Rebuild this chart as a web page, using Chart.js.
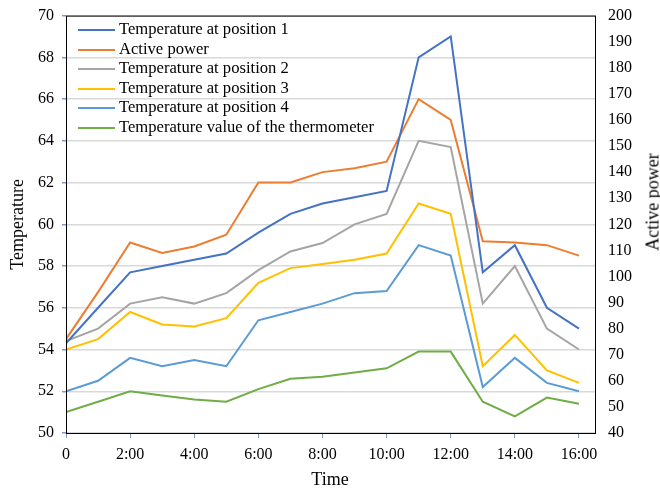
<!DOCTYPE html>
<html>
<head>
<meta charset="utf-8">
<script src="https://cdn.jsdelivr.net/npm/chart.js@4.4.1/dist/chart.umd.min.js"></script>
<style>
  body { margin: 0; background: #fff; }
  #wrap { position: relative; width: 660px; height: 489px; overflow: hidden; font-family: "Liberation Serif", "Times New Roman", serif; }
  #chart { position: absolute; left: 0; top: -7px; }
  #legend { position: absolute; left: 78px; top: 19px; }
  #legend div { height: 19.5px; line-height: 19.5px; font-size: 16.6px; color: #000; white-space: nowrap; }
  #legend span { display: inline-block; width: 37px; height: 2px; vertical-align: middle; margin-right: 4px; }
  #rtitle { position: absolute; left: 653px; top: 202px; transform: translate(-50%, -50%) rotate(-90deg); font-size: 18px; white-space: nowrap; }
  #xtitle { position: absolute; left: 330px; top: 479px; transform: translate(-50%, -50%); font-size: 18px; white-space: nowrap; }
</style>
</head>
<body>
<div id="wrap">
  <canvas id="chart" width="660" height="496"></canvas>
  <div id="legend"></div>
  <div id="rtitle">Active power</div>
  <div id="xtitle">Time</div>
</div>
<script>
// hours 0..16
const hours = [0, 1, 2, 3, 4, 5, 6, 7, 8, 9, 10, 11, 12, 13, 14, 15, 16];
const xTicks = [0, 2, 4, 6, 8, 10, 12, 14, 16];

const tempPos1 = [54.3, 56.0, 57.7, 58.0, 58.3, 58.6, 59.6, 60.5, 61.0, 61.3, 61.6, 68.0, 69.0, 57.7, 59.0, 56.0, 55.0];
const activePower = [76, 94, 113, 109, 111.5, 116, 136, 136, 140, 141.5, 144, 168, 160, 113.5, 113, 112, 108];
const tempPos2 = [54.4, 55.0, 56.2, 56.5, 56.2, 56.7, 57.8, 58.7, 59.1, 60.0, 60.5, 64.0, 63.7, 56.2, 58.0, 55.0, 54.0];
const tempPos3 = [54.0, 54.5, 55.8, 55.2, 55.1, 55.5, 57.2, 57.9, 58.1, 58.3, 58.6, 61.0, 60.5, 53.2, 54.7, 53.0, 52.4];
const tempPos4 = [52.0, 52.5, 53.6, 53.2, 53.5, 53.2, 55.4, 55.8, 56.2, 56.7, 56.8, 59.0, 58.5, 52.2, 53.6, 52.4, 52.0];
const thermometer = [51.0, 51.5, 52.0, 51.8, 51.6, 51.5, 52.1, 52.6, 52.7, 52.9, 53.1, 53.9, 53.9, 51.5, 50.8, 51.7, 51.4];

const series = [
    { label: 'Temperature at position 1', data: tempPos1, color: '#4472C4', axis: 'y' },
    { label: 'Active power', data: activePower, color: '#ED7D31', axis: 'y1' },
    { label: 'Temperature at position 2', data: tempPos2, color: '#A5A5A5', axis: 'y' },
    { label: 'Temperature at position 3', data: tempPos3, color: '#FFC000', axis: 'y' },
    { label: 'Temperature at position 4', data: tempPos4, color: '#5B9BD5', axis: 'y' },
    { label: 'Temperature value of the thermometer', data: thermometer, color: '#70AD47', axis: 'y' }
];

const FONT = "'Liberation Serif', 'Times New Roman', serif";

// black frame round the plot area
const framePlugin = {
    id: 'frame',
    afterDraw(chart) {
        const a = chart.chartArea;
        const ctx = chart.ctx;
        ctx.save();
        ctx.strokeStyle = '#000';
        ctx.lineWidth = 1;
        ctx.strokeRect(a.left + 0.5, a.top + 0.5, a.right - a.left, a.bottom - a.top);
        ctx.restore();
    }
};

new Chart(document.getElementById('chart'), {
    type: 'line',
    data: {
        datasets: series.map(s => ({
            label: s.label,
            data: hours.map((h, i) => ({ x: h, y: s.data[i] })),
            borderColor: s.color,
            backgroundColor: s.color,
            borderWidth: 2,
            pointRadius: 0,
            tension: 0,
            yAxisID: s.axis
        }))
    },
    options: {
        responsive: false,
        animation: false,
        layout: { padding: { top: 7, left: 0, right: 0, bottom: 0 } },
        plugins: {
            legend: { display: false },
            tooltip: { enabled: false }
        },
        scales: {
            x: {
                type: 'linear',
                min: 0,
                max: 16.5,
                afterBuildTicks: s => { s.ticks = xTicks.map(v => ({ value: v })); },
                afterFit: s => { s.height = 56; },
                ticks: {
                    color: '#000',
                    font: { family: FONT, size: 16 },
                    padding: 7,
                    maxRotation: 0,
                    callback: v => v === 0 ? '0' : v + ':00'
                },
                grid: { drawOnChartArea: false, tickLength: 5, color: '#7f9cc8' },
                border: { display: false }
            },
            y: {
                position: 'left',
                min: 50,
                max: 70,
                afterFit: s => { s.width = 66; },
                ticks: { stepSize: 2, color: '#000', font: { family: FONT, size: 16 }, padding: 8 },
                grid: { color: '#d9d9d9', lineWidth: 1.5, tickLength: 4, tickColor: '#7f9cc8' },
                border: { display: false },
                title: { display: true, text: 'Temperature', color: '#000', font: { family: FONT, size: 18 }, padding: { top: 7, bottom: 0 } }
            },
            y1: {
                position: 'right',
                min: 40,
                max: 200,
                afterFit: s => { s.width = 65; },
                ticks: { stepSize: 10, color: '#000', font: { family: FONT, size: 16 }, padding: 13 },
                grid: { drawOnChartArea: false, drawTicks: false },
                border: { display: false }
            }
        }
    },
    plugins: [framePlugin]
});

// legend inside the plot area, top left
const legend = document.getElementById('legend');
series.forEach(s => {
    const row = document.createElement('div');
    const sw = document.createElement('span');
    sw.style.background = s.color;
    row.appendChild(sw);
    row.appendChild(document.createTextNode(s.label));
    legend.appendChild(row);
});
</script>
</body>
</html>
